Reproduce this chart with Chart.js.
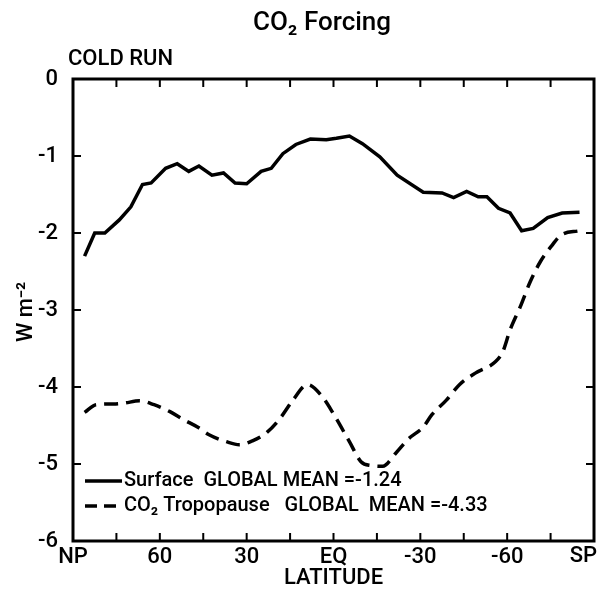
<!DOCTYPE html>
<html lang="en">
<head>
    <meta charset="UTF-8">
    <title>CO2 Forcing - Cold Run</title>
    <script src="https://cdn.jsdelivr.net/npm/chart.js"></script>
    <style>
        body { margin: 0; background: #fff; }
    </style>
</head>
<body>
    <canvas id="forcingChart" width="597" height="589"></canvas>

    <script>
        // latitude (deg, NP = 90 .. SP = -90) and forcing values in W m-2
        const surfaceLat = [86, 82.5, 79, 74, 70, 66, 63, 58, 54, 50, 46.5, 42, 38, 34, 30, 25, 21.5, 17.5, 13, 8, 2.5, -1, -5.5, -10, -16, -22, -31, -37.5, -41.5, -46, -50, -53, -57, -61, -65, -69, -74, -79, -85];
        const surfaceVal = [-2.30, -2.0, -2.0, -1.83, -1.66, -1.37, -1.35, -1.16, -1.10, -1.20, -1.13, -1.25, -1.22, -1.35, -1.36, -1.20, -1.16, -0.97, -0.85, -0.78, -0.79, -0.77, -0.74, -0.84, -1.01, -1.25, -1.47, -1.48, -1.54, -1.46, -1.53, -1.53, -1.68, -1.74, -1.97, -1.94, -1.80, -1.74, -1.73];

        const tropoLat = [86, 82, 76, 72.5, 67, 62, 56.5, 52, 47, 43, 37, 32.5, 28, 23, 18.5, 14, 9, 4, 0, -5.5, -9.5, -13, -17, -21.5, -26, -31, -34, -39, -43.5, -49, -56, -58.5, -61, -64.5, -68, -71.5, -75.5, -78.5, -85];
        const tropoVal = [-4.33, -4.23, -4.22, -4.21, -4.18, -4.23, -4.32, -4.42, -4.52, -4.62, -4.71, -4.75, -4.70, -4.59, -4.41, -4.17, -3.97, -4.12, -4.35, -4.71, -4.97, -5.02, -5.03, -4.86, -4.67, -4.52, -4.36, -4.17, -3.97, -3.82, -3.67, -3.54, -3.26, -2.96, -2.63, -2.37, -2.16, -2.03, -1.97];

        // SP sits on the page edge, so it is drawn right-aligned by the plugin
        const latTickLabels = { '90': 'NP', '60': '60', '30': '30', '0': 'EQ', '-30': '-30', '-60': '-60' };

        const legendRows = [
            { text: 'Surface  GLOBAL MEAN =-1.24', dash: [] },
            { text: 'CO\u2082 Tropopause   GLOBAL  MEAN =-4.33', dash: [12, 7] }
        ];

        const FONT = 'Roboto, "Liberation Sans", sans-serif';

        // frame, inward tick marks, titles and the legend
        const decorations = {
            id: 'decorations',
            afterDraw(chart) {
                const ctx = chart.ctx;
                const { left, right, top, bottom } = chart.chartArea;
                const x = chart.scales.x, y = chart.scales.y;
                ctx.save();
                ctx.strokeStyle = '#000';
                ctx.lineWidth = 3;
                ctx.strokeRect(left, top, right - left, bottom - top);

                ctx.lineWidth = 2;
                ctx.beginPath();
                x.ticks.forEach(t => {
                    const px = x.getPixelForValue(t.value);
                    ctx.moveTo(px, top); ctx.lineTo(px, top + 8);
                    ctx.moveTo(px, bottom); ctx.lineTo(px, bottom - 8);
                });
                y.ticks.forEach(t => {
                    const py = y.getPixelForValue(t.value);
                    ctx.moveTo(left, py); ctx.lineTo(left + 8, py);
                    ctx.moveTo(right, py); ctx.lineTo(right - 8, py);
                });
                ctx.stroke();

                ctx.fillStyle = '#000';
                ctx.textBaseline = 'middle';
                ctx.textAlign = 'center';
                ctx.font = '500 26px ' + FONT;
                ctx.fillText('CO\u2082 Forcing', 322, 23);

                ctx.textAlign = 'left';
                ctx.font = '500 22px ' + FONT;
                ctx.fillText('COLD RUN', 68, 59);

                ctx.textAlign = 'center';
                ctx.fillText('LATITUDE', (left + right) / 2, 578);

                ctx.textAlign = 'right';
                ctx.fillText('SP', chart.width, 556);

                ctx.textAlign = 'center';
                ctx.save();
                ctx.translate(26, 312);
                ctx.rotate(-Math.PI / 2);
                ctx.fillText('W m\u207B\u00B2', 0, 0);
                ctx.restore();

                // legend
                ctx.textAlign = 'left';
                ctx.font = '500 20px ' + FONT;
                legendRows.forEach((row, i) => {
                    const ly = 481 + i * 25;
                    ctx.lineWidth = 3.5;
                    ctx.setLineDash(row.dash);
                    ctx.beginPath();
                    ctx.moveTo(85, ly);
                    ctx.lineTo(122, ly);
                    ctx.stroke();
                    ctx.setLineDash([]);
                    ctx.fillText(row.text, 124, ly);
                });
                ctx.restore();
            }
        };

        new Chart(document.getElementById('forcingChart'), {
            type: 'line',
            data: {
                datasets: [{
                    label: 'Surface',
                    data: surfaceLat.map((lat, i) => ({ x: lat, y: surfaceVal[i] })),
                    borderColor: '#000',
                    borderWidth: 3.5,
                    pointRadius: 0,
                    tension: 0,
                    fill: false
                }, {
                    label: 'CO\u2082 Tropopause',
                    data: tropoLat.map((lat, i) => ({ x: lat, y: tropoVal[i] })),
                    borderColor: '#000',
                    borderWidth: 3.5,
                    borderDash: [14, 8],
                    pointRadius: 0,
                    cubicInterpolationMode: 'monotone',
                    fill: false
                }]
            },
            options: {
                responsive: false,
                animation: false,
                devicePixelRatio: 1,
                layout: { padding: { top: 79, right: 3, left: 0, bottom: 0 } },
                plugins: {
                    legend: { display: false },
                    tooltip: { enabled: false }
                },
                scales: {
                    x: {
                        type: 'linear',
                        reverse: true,
                        min: -90,
                        max: 90,
                        grid: { display: false },
                        border: { display: false },
                        ticks: {
                            stepSize: 15,
                            autoSkip: false,
                            maxRotation: 0,
                            padding: -5,
                            color: '#000',
                            font: { family: FONT, size: 22, weight: 500 },
                            callback: v => latTickLabels[String(v)] || ''
                        },
                        afterFit(scale) {
                            scale.height = 48;
                            scale.paddingLeft = 0;
                            scale.paddingRight = 0;
                        }
                    },
                    y: {
                        min: -6,
                        max: 0,
                        grid: { display: false },
                        border: { display: false },
                        ticks: {
                            stepSize: 1,
                            padding: 7,
                            color: '#000',
                            font: { family: FONT, size: 22, weight: 500 },
                            callback: v => String(v)
                        },
                        afterFit(scale) {
                            scale.width = 73;
                            scale.paddingTop = 0;
                            scale.paddingBottom = 0;
                        }
                    }
                }
            },
            plugins: [decorations]
        });
    </script>
</body>
</html>
